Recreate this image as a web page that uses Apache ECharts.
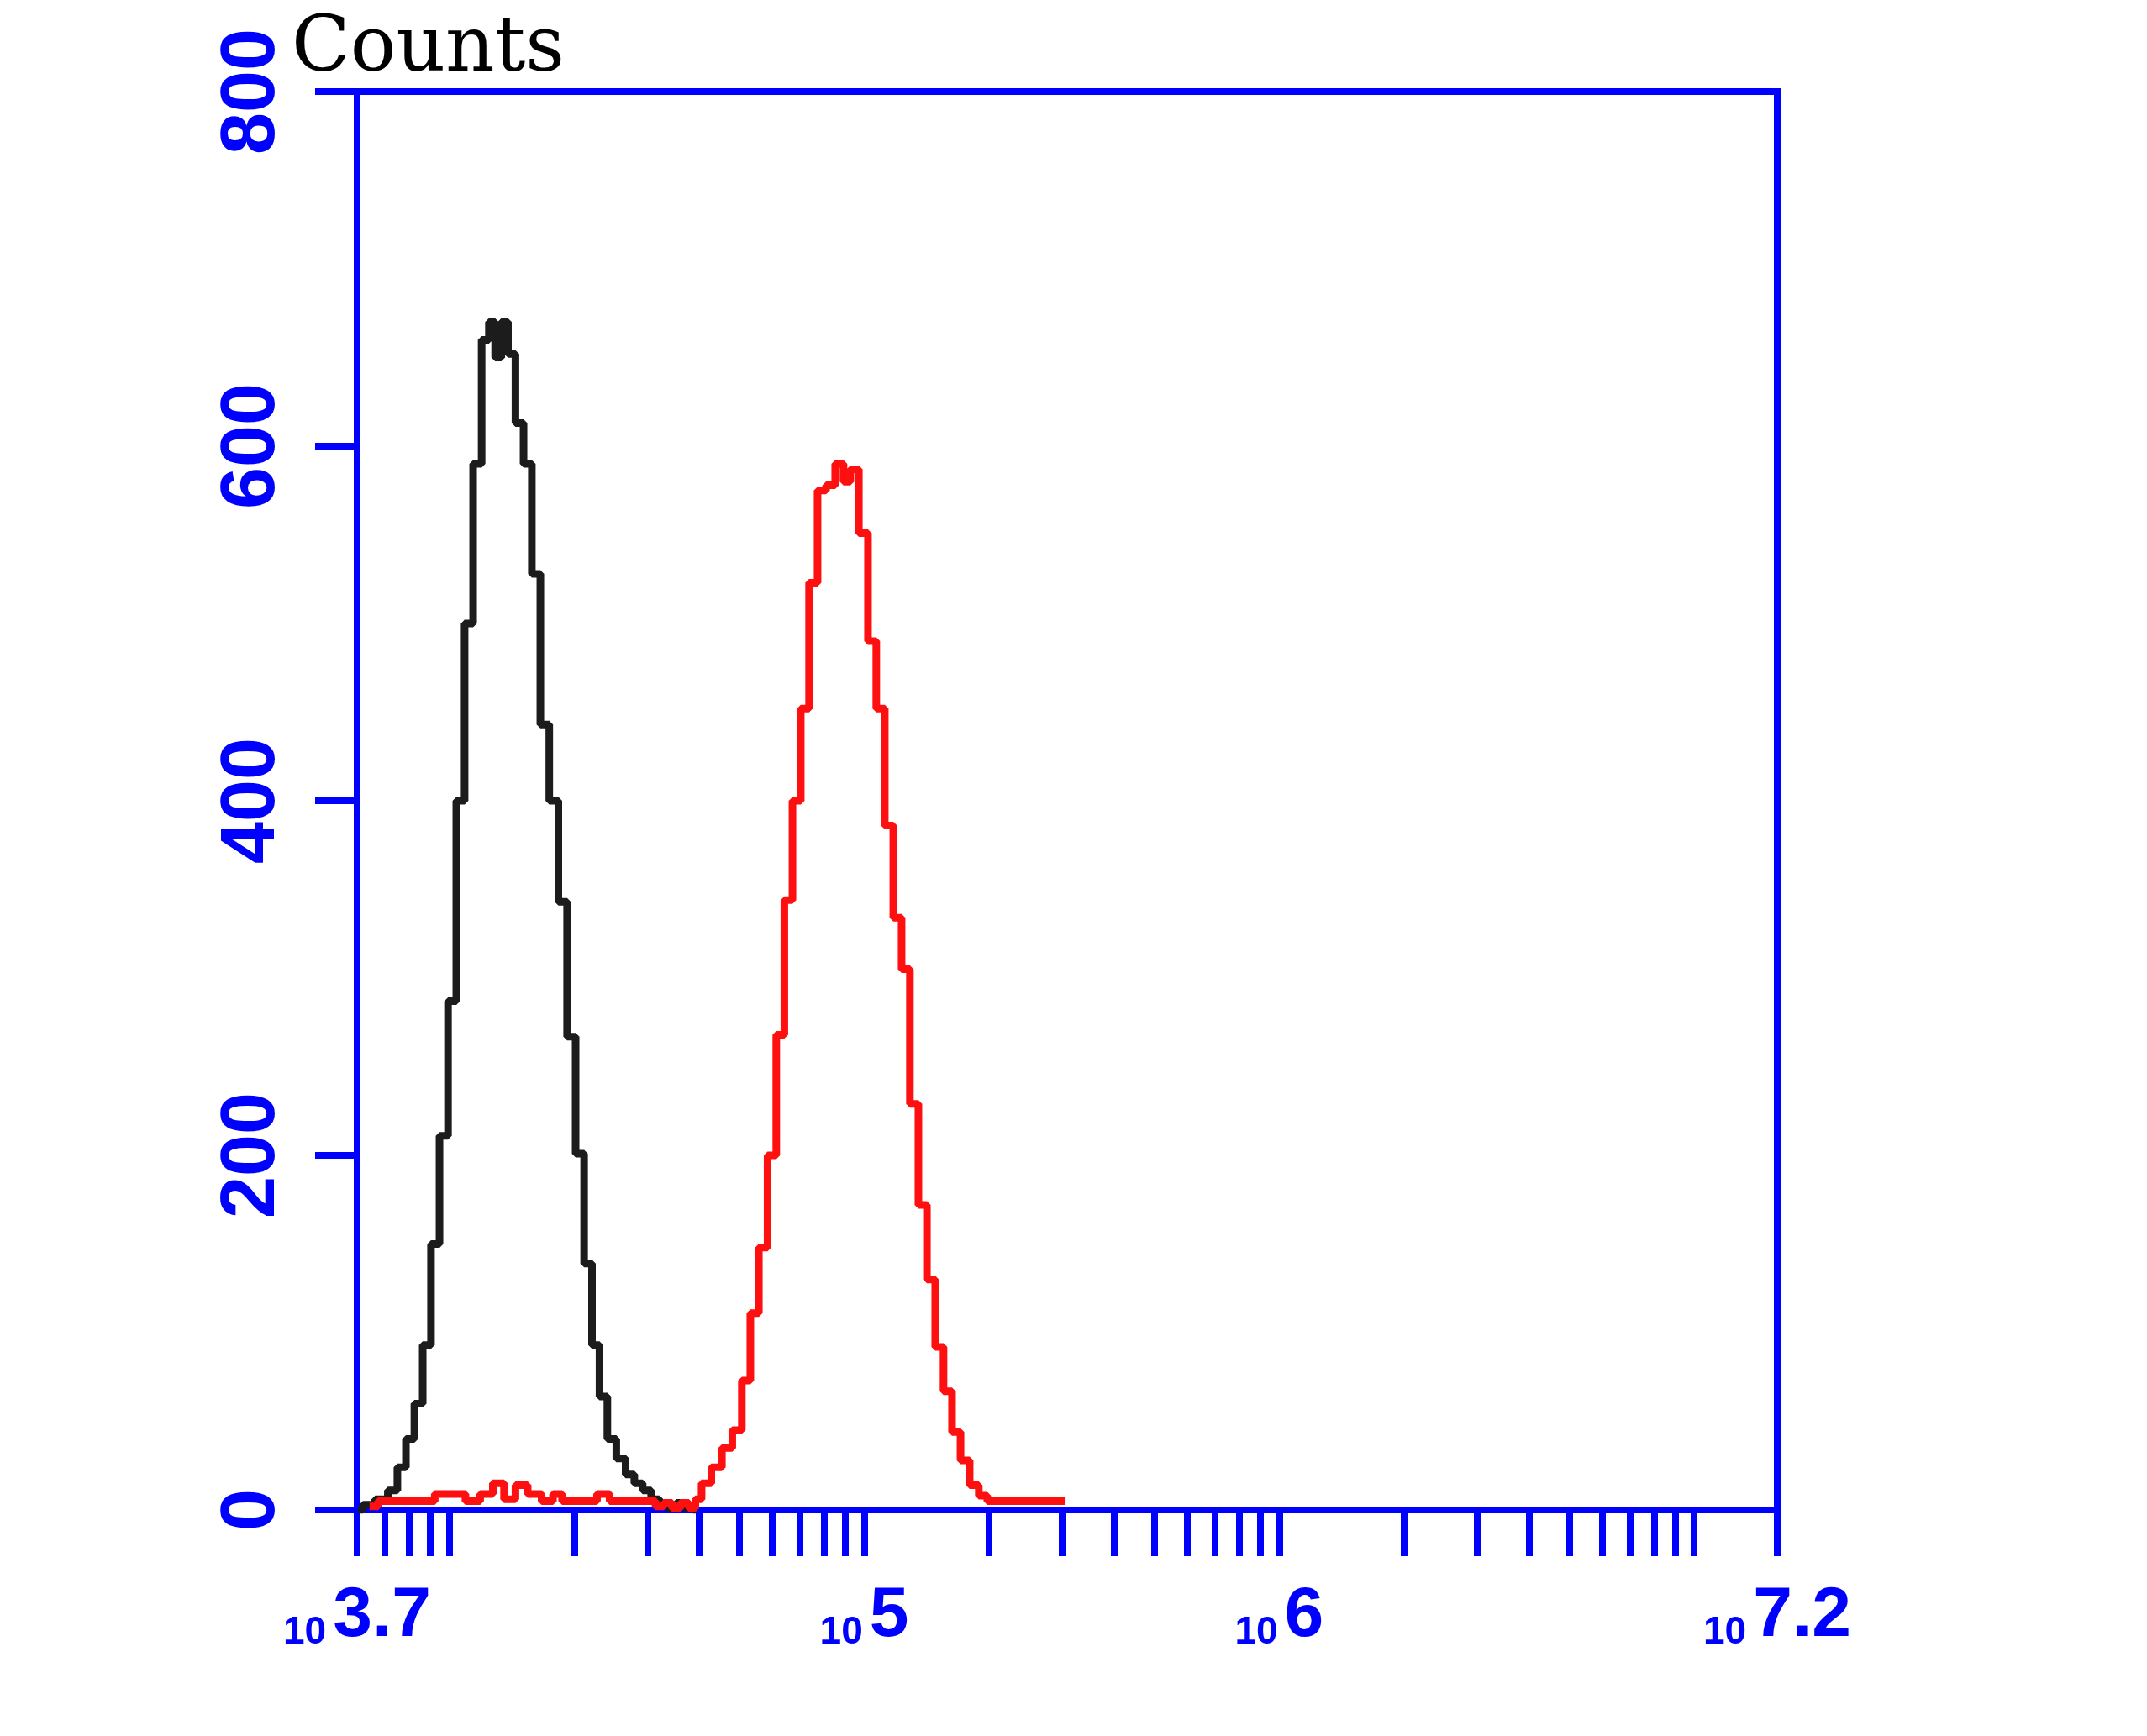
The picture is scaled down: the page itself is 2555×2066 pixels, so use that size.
<!DOCTYPE html>
<html>
<head>
<meta charset="utf-8">
<script src="https://cdn.jsdelivr.net/npm/echarts@6/dist/echarts.min.js"></script>
<style>
  html, body { margin: 0; padding: 0; background: #ffffff; }
  #chart { width: 2555px; height: 2066px; }
</style>
</head>
<body>
<div id="chart"></div>
<script>
// ---- data (x = log10 of fluorescence, y = counts) ----
const xRangeLog = [3.778, 7.2];
const xMinorTickValues = [6e3, 7e3, 8e3, 9e3,
  1e4, 2e4, 3e4, 4e4, 5e4, 6e4, 7e4, 8e4, 9e4,
  1e5, 2e5, 3e5, 4e5, 5e5, 6e5, 7e5, 8e5, 9e5,
  1e6, 2e6, 3e6, 4e6, 5e6, 6e6, 7e6, 8e6, 9e6,
  1e7];
const xLabelLogPos = [3.778, 5, 6, 7.2];
const xLabelExponents = ['3.7', '5', '6', '7.2'];
const yTickValues = [0, 200, 400, 600, 800];

const blackLog = [3.780, 3.804, 3.839, 3.865, 3.885, 3.906, 3.926, 3.946, 3.966, 3.987,
  4.007, 4.027, 4.047, 4.068, 4.088, 4.103, 4.118, 4.133, 4.150, 4.169,
  4.189, 4.209, 4.230, 4.252, 4.274, 4.294, 4.315, 4.335, 4.353, 4.371,
  4.391, 4.414, 4.436, 4.456, 4.476, 4.497, 4.517, 4.537, 4.557, 4.578, 4.598];
const blackCount = [0, 3, 6, 11, 24, 40, 60, 93, 150, 211,
  287, 400, 500, 590, 660, 670, 650, 670, 652, 613,
  590, 528, 443, 400, 343, 267, 201, 139, 93, 64,
  40, 29, 20, 15, 11, 6, 3, 1, 4, 1, 0];

const redLog = [3.808, 3.849, 3.910, 3.950, 3.980, 4.021, 4.057, 4.092, 4.118, 4.146,
  4.173, 4.205, 4.240, 4.260, 4.284, 4.315, 4.345, 4.367, 4.406, 4.446,
  4.487, 4.507, 4.527, 4.547, 4.567, 4.588, 4.598, 4.618, 4.645, 4.669,
  4.695, 4.715, 4.736, 4.756, 4.778, 4.798, 4.817, 4.837, 4.857, 4.877,
  4.898, 4.918, 4.942, 4.958, 4.975, 4.999, 5.019, 5.039, 5.060, 5.080,
  5.100, 5.120, 5.141, 5.161, 5.181, 5.201, 5.222, 5.242, 5.266, 5.286,
  5.307, 5.388, 5.483];
const redCount = [2, 5, 5, 5, 9, 9, 5, 9, 15, 6,
  14, 9, 5, 9, 5, 5, 5, 9, 5, 5,
  5, 2, 4, 1, 4, 1, 6, 15, 24, 35,
  45, 73, 111, 148, 200, 268, 344, 400, 452, 523,
  575, 578, 590, 580, 587, 551, 490, 452, 386, 334,
  305, 229, 172, 130, 92, 67, 44, 28, 14, 8,
  5, 5, 5];

// ---- chart ----
const BLUE = '#0000ff';
const LABEL_FONT = '"Liberation Sans", Arial, sans-serif';

const xTicks = [xRangeLog[0]].concat(xMinorTickValues.map(v => Math.log10(v))).concat([xRangeLog[1]]);
const pair = (xs, ys) => xs.map((x, i) => [x, ys[i]]);

const chart = echarts.init(document.getElementById('chart'), null, { renderer: 'canvas' });
chart.setOption({
  backgroundColor: '#ffffff',
  animation: false,
  title: {
    text: 'Counts',
    left: 347,
    top: 15,
    padding: 0,
    textStyle: { fontFamily: '"DejaVu Serif", serif', fontSize: 91, fontWeight: 'normal', color: '#000000', lineHeight: 91 }
  },
  grid: {
    left: 425, top: 109, width: 1690, height: 1688,
    show: true, borderColor: BLUE, borderWidth: 8, backgroundColor: 'transparent',
    containLabel: false, outerBoundsMode: 'none'
  },
  xAxis: {
    type: 'value',
    min: xRangeLog[0], max: xRangeLog[1],
    axisLine: { show: true, onZero: false, lineStyle: { color: BLUE, width: 8 } },
    axisTick: { show: true, length: 55, lineStyle: { color: BLUE, width: 8 }, customValues: xTicks },
    splitLine: { show: false },
    axisLabel: {
      show: true,
      margin: 85,
      customValues: xLabelLogPos,
      formatter: function (v) {
        let best = 0;
        for (let i = 1; i < xLabelLogPos.length; i++) {
          if (Math.abs(xLabelLogPos[i] - v) < Math.abs(xLabelLogPos[best] - v)) best = i;
        }
        return '{s|10}{b|' + xLabelExponents[best] + '}';
      },
      rich: {
        s: { fontFamily: LABEL_FONT, fontSize: 46, fontWeight: 'bold', color: BLUE, lineHeight: 30, verticalAlign: 'bottom', padding: [0, 8, 0, 0] },
        b: { fontFamily: LABEL_FONT, fontSize: 84, fontWeight: 'bold', color: BLUE, lineHeight: 84, verticalAlign: 'bottom' }
      }
    }
  },
  yAxis: {
    type: 'value',
    min: yTickValues[0], max: yTickValues[yTickValues.length - 1], interval: 200,
    axisLine: { show: true, onZero: false, lineStyle: { color: BLUE, width: 8 } },
    axisTick: { show: true, length: 50, lineStyle: { color: BLUE, width: 8 } },
    splitLine: { show: false },
    axisLabel: {
      show: true, rotate: 90, margin: 79,
      color: BLUE, fontFamily: LABEL_FONT, fontSize: 90, fontWeight: 'bold', lineHeight: 90
    }
  },
  series: [
    {
      name: 'control', type: 'line', step: 'middle', symbol: 'none', z: 5,
      lineStyle: { color: '#1c1c1c', width: 9 },
      data: pair(blackLog, blackCount)
    },
    {
      name: 'sample', type: 'line', step: 'middle', symbol: 'none', z: 6,
      lineStyle: { color: '#ff1010', width: 9 },
      data: pair(redLog, redCount)
    }
  ]
});
</script>
</body>
</html>
